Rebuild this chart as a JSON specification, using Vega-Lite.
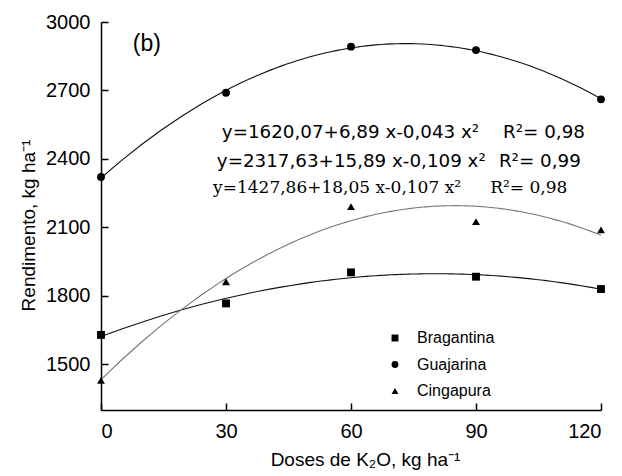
{
  "$schema": "https://vega.github.io/schema/vega-lite/v6.json",
  "width": 500,
  "height": 388,
  "autosize": "none",
  "padding": {"left": 101, "top": 22, "right": 21, "bottom": 66},
  "background": "white",
  "config": {
    "view": {"stroke": null},
    "font": "Liberation Sans",
    "axis": {
      "grid": false,
      "domainColor": "black",
      "domainWidth": 1.5,
      "tickColor": "black",
      "tickWidth": 1.5,
      "tickSize": -7,
      "labelFont": "Liberation Sans",
      "labelFontSize": 20,
      "labelColor": "black",
      "titleFont": "Liberation Sans",
      "titleFontSize": 19,
      "titleFontWeight": "normal",
      "titleColor": "black",
      "format": "d"
    }
  },
  "datasets": {
    "pts": [
      {"dose": 0, "rend": 1629, "cultivar": "Bragantina"},
      {"dose": 30, "rend": 1767, "cultivar": "Bragantina"},
      {"dose": 60, "rend": 1903, "cultivar": "Bragantina"},
      {"dose": 90, "rend": 1884, "cultivar": "Bragantina"},
      {"dose": 120, "rend": 1830, "cultivar": "Bragantina"},
      {"dose": 0, "rend": 2321, "cultivar": "Guajarina"},
      {"dose": 30, "rend": 2690, "cultivar": "Guajarina"},
      {"dose": 60, "rend": 2892, "cultivar": "Guajarina"},
      {"dose": 90, "rend": 2877, "cultivar": "Guajarina"},
      {"dose": 120, "rend": 2661, "cultivar": "Guajarina"},
      {"dose": 0, "rend": 1430, "cultivar": "Cingapura"},
      {"dose": 30, "rend": 1862, "cultivar": "Cingapura"},
      {"dose": 60, "rend": 2191, "cultivar": "Cingapura"},
      {"dose": 90, "rend": 2125, "cultivar": "Cingapura"},
      {"dose": 120, "rend": 2089, "cultivar": "Cingapura"}
    ],
    "eqSans": [
      {"dose": 29.0, "rend": 2514, "label": "y=1620,07+6,89 x-0,043 x²"},
      {"dose": 27.8, "rend": 2387, "label": "y=2317,63+15,89 x-0,109 x²"},
      {"dose": 96.5, "rend": 2514, "label": "R²= 0,98"},
      {"dose": 95.5, "rend": 2387, "label": "R²= 0,99"}
    ],
    "eqSerif": [
      {"dose": 26.9, "rend": 2273, "label": "y=1427,86+18,05 x-0,107 x²"},
      {"dose": 93.4, "rend": 2273, "label": "R²= 0,98"}
    ],
    "tag": [
      {"dose": 11, "rend": 2905, "label": "(b)"}
    ]
  },
  "layer": [
    {
      "data": {"name": "pts"},
      "transform": [
        {"filter": "datum.cultivar !== 'Cingapura'"},
        {"regression": "rend", "on": "dose", "groupby": ["cultivar"], "method": "poly", "order": 2, "extent": [0, 120]}
      ],
      "mark": {"type": "line", "strokeWidth": 1.1, "color": "#111111"},
      "encoding": {
        "x": {
          "field": "dose", "type": "quantitative",
          "scale": {"domain": [0, 120], "nice": false},
          "axis": {"values": [0, 30, 60, 90, 120], "labelPadding": 18, "title": "Doses de K₂O, kg ha⁻¹", "titlePadding": 9, "titleX": 264}
        },
        "y": {
          "field": "rend", "type": "quantitative",
          "scale": {"domain": [1300, 3000], "nice": false, "zero": false},
          "axis": {"values": [1500, 1800, 2100, 2400, 2700, 3000], "labelPadding": 18, "title": "Rendimento, kg ha⁻¹", "titlePadding": 7, "titleY": 203}
        },
        "detail": {"field": "cultivar", "type": "nominal"}
      }
    },
    {
      "data": {"name": "pts"},
      "transform": [
        {"filter": "datum.cultivar === 'Cingapura'"},
        {"regression": "rend", "on": "dose", "method": "poly", "order": 2, "extent": [0, 120]}
      ],
      "mark": {"type": "line", "strokeWidth": 1.1, "color": "#777777"},
      "encoding": {
        "x": {"field": "dose", "type": "quantitative"},
        "y": {"field": "rend", "type": "quantitative"}
      }
    },
    {
      "data": {"name": "pts"},
      "mark": {"type": "point", "filled": true, "color": "black", "opacity": 1, "size": 62},
      "encoding": {
        "x": {"field": "dose", "type": "quantitative"},
        "y": {"field": "rend", "type": "quantitative"},
        "shape": {
          "field": "cultivar", "type": "nominal",
          "scale": {"domain": ["Bragantina", "Guajarina", "Cingapura"], "range": ["square", "circle", "triangle-up"]},
          "legend": {
            "orient": "none", "legendX": 286, "legendY": 308, "title": null,
            "labelFont": "Liberation Sans", "labelFontSize": 16, "labelColor": "black",
            "symbolSize": 48, "symbolFillColor": "black", "symbolStrokeColor": "black",
            "rowPadding": 10.5, "labelOffset": 14
          }
        }
      }
    },
    {
      "data": {"name": "eqSans"},
      "mark": {"type": "text", "align": "left", "baseline": "middle", "font": "DejaVu Sans", "fontSize": 18.3, "color": "black"},
      "encoding": {
        "x": {"field": "dose", "type": "quantitative"},
        "y": {"field": "rend", "type": "quantitative"},
        "text": {"field": "label"}
      }
    },
    {
      "data": {"name": "eqSerif"},
      "mark": {"type": "text", "align": "left", "baseline": "middle", "font": "DejaVu Serif", "fontSize": 17, "color": "black"},
      "encoding": {
        "x": {"field": "dose", "type": "quantitative"},
        "y": {"field": "rend", "type": "quantitative"},
        "text": {"field": "label"}
      }
    },
    {
      "data": {"name": "tag"},
      "mark": {"type": "text", "align": "center", "baseline": "middle", "font": "Liberation Sans", "fontSize": 23, "color": "black"},
      "encoding": {
        "x": {"field": "dose", "type": "quantitative"},
        "y": {"field": "rend", "type": "quantitative"},
        "text": {"field": "label"}
      }
    }
  ]
}
